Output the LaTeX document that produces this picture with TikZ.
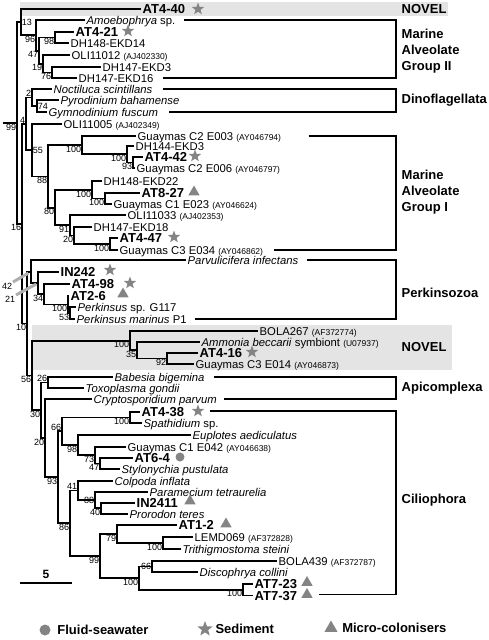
\documentclass[tikz,border=0pt]{standalone}
\usepackage{fontspec}
\setmainfont{Liberation Sans}
\usetikzlibrary{positioning,shapes.geometric}

\definecolor{bandgray}{RGB}{228,228,228}
\definecolor{markgray}{RGB}{132,132,132}
\definecolor{leadgray}{RGB}{175,175,175}

\newcommand{\acc}[1]{{\fontsize{8.5}{9}\selectfont\upshape #1}}

\tikzset{
  leaf/.style={anchor=west, inner xsep=1.5pt, inner ysep=0.2pt, text height=8pt,
    text depth=0pt, font=\fontsize{11.3}{12}\selectfont},
  sp/.style={leaf, font=\fontsize{11.3}{12}\selectfont\itshape},
  clone/.style={anchor=west, inner xsep=1.5pt, inner ysep=0.2pt, text height=9.3pt,
    text depth=0pt, font=\fontsize{13}{14}\selectfont\bfseries},
  bs/.style={anchor=north east, inner sep=0.6pt, font=\fontsize{9}{10}\selectfont},
  bsa/.style={bs, anchor=south east},
  bsr/.style={bs, anchor=west},
  bsl/.style={bs, anchor=east},
  br/.style={draw, line width=1.8pt, to path={|- (\tikztotarget)}},
  stem/.style={draw, line width=1.8pt},
  clb/.style={draw, line width=1.8pt},
  lead/.style={draw=leadgray, line width=3pt},
  clade/.style={anchor=west, align=left, inner sep=1.5pt,
    font=\fontsize{13}{16}\selectfont\bfseries},
  sed/.style={star, star points=5, star point ratio=2.4, fill=markgray,
    inner sep=0pt, minimum size=13pt},
  mic/.style={regular polygon, regular polygon sides=3, fill=markgray,
    inner sep=0pt, minimum size=13pt},
  flu/.style={circle, fill=markgray, inner sep=0pt, minimum size=9pt},
}

\begin{document}
\begin{tikzpicture}[x=1pt, y=-1pt]
\useasboundingbox (0,0) rectangle (488,640);

		\fill[bandgray] (20,2) rectangle (448,16);
		\fill[bandgray] (32,325) rectangle (452,370);

		\coordinate (rt) at (3,123);
		\coordinate (n99) at (17,123);
		\coordinate (n13) at (21,22.2);
		\coordinate (n96) at (36,35.3);
		\coordinate (n47) at (39,50.6);
		\coordinate (n98) at (55,37.5);
		\coordinate (n19) at (43,63.8);
		\coordinate (n76) at (52,72.5);
		\coordinate (n16) at (22,223.7);
		\coordinate (n4) at (26,123.9);
		\coordinate (n2) at (32,97.5);
		\coordinate (n74) at (37,106);
		\coordinate (n55) at (32,150.2);
		\coordinate (n88) at (48,176.4);
		\coordinate (n100a) at (82,145.1);
		\coordinate (n100b) at (127,154.3);
		\coordinate (n93a) at (133,162.5);
		\coordinate (n80) at (55,207.6);
		\coordinate (n100c) at (92,190);
		\coordinate (n100d) at (105,198.5);
		\coordinate (n91) at (70,225.3);
		\coordinate (n20a) at (74,235.5);
		\coordinate (n100e) at (110,244);
		\coordinate (n10) at (27,323.5);
		\coordinate (n42) at (31,271.6);
		\coordinate (n21) at (38,283.1);
		\coordinate (n34) at (44,294.3);
		\coordinate (n100f) at (68,304.5);
		\coordinate (n53) at (70,313);
		\coordinate (n56) at (32,375.5);
		\coordinate (n100g) at (130,340.6);
		\coordinate (n35) at (137,350.3);
		\coordinate (n92) at (167,358.5);
		\coordinate (n30) at (41,410.3);
		\coordinate (n26) at (48,382.5);
		\coordinate (n20b) at (45,438.1);
		\coordinate (n93c) at (58,477.3);
		\coordinate (n66) at (62,431.3);
		\coordinate (n100h) at (130,417.5);
		\coordinate (n98b) at (78,445.1);
		\coordinate (n73) at (95,455.3);
		\coordinate (n47b) at (100,463.5);
		\coordinate (n86) at (70,523.3);
		\coordinate (n41) at (78,490.5);
		\coordinate (n88b) at (95,500);
		\coordinate (n40) at (101,508);
		\coordinate (n99b) at (100,556);
		\coordinate (n79) at (117,534);
		\coordinate (n100i) at (163,543);
		\coordinate (n100j) at (139,578);
		\coordinate (n66b) at (152,566.5);
		\coordinate (n100k) at (243,589.8);

		\node[clone] (lAT440) at (141,9) {AT4-40};
		\node[sp] (lAmoe) at (85,20) {Amoebophrya \textup{sp.}};
		\node[clone] (lAT421) at (74,32) {AT4-21};
		\node[leaf] (lEKD14) at (69,43) {DH148-EKD14};
		\node[leaf] (lOLI12) at (70,55) {OLI11012 \acc{(AJ402330)}};
		\node[leaf] (lEKD3) at (101,67) {DH147-EKD3};
		\node[leaf] (lEKD16) at (77,78) {DH147-EKD16};
		\node[sp] (lNoct) at (52,89) {Noctiluca scintillans};
		\node[sp] (lPyro) at (59,100) {Pyrodinium bahamense};
		\node[sp] (lGymn) at (47,112) {Gymnodinium fuscum};
		\node[leaf] (lOLI05) at (62,124) {OLI11005 \acc{(AJ402349)}};
		\node[leaf] (lE003) at (136,136) {Guaymas C2 E003 \acc{(AY046794)}};
		\node[leaf] (lEKD3b) at (134,146) {DH144-EKD3};
		\node[clone] (lAT442) at (143,157) {AT4-42};
		\node[leaf] (lE006) at (135,168) {Guaymas C2 E006 \acc{(AY046797)}};
		\node[leaf] (lEKD22) at (102,181) {DH148-EKD22};
		\node[clone] (lAT827) at (140,193) {AT8-27};
		\node[leaf] (lE023) at (112,204) {Guaymas C1 E023 \acc{(AY046624)}};
		\node[leaf] (lOLI33) at (126,215) {OLI11033 \acc{(AJ402353)}};
		\node[leaf] (lEKD18) at (92,227) {DH147-EKD18};
		\node[clone] (lAT447) at (118,238) {AT4-47};
		\node[leaf] (lE034) at (118,250) {Guaymas C3 E034 \acc{(AY046862)}};
		\node[sp] (lParv) at (186,260) {Parvulicifera infectans};
		\node[clone] (lIN242) at (59,272) {IN242};
		\node[clone] (lAT498) at (70,284) {AT4-98};
		\node[clone] (lAT26) at (69,296) {AT2-6};
		\node[sp] (lPG117) at (76,307) {Perkinsus \textup{sp. G117}};
		\node[sp] (lPmar) at (75,319) {Perkinsus marinus \textup{P1}};
		\node[leaf] (lBOLA267) at (258,331) {BOLA267 \acc{(AF372774)}};
		\node[sp] (lAmmo) at (200,342) {Ammonia beccarii \textup{symbiont} \acc{(U07937)}};
		\node[clone] (lAT416) at (198,353) {AT4-16};
		\node[leaf] (lE014) at (194,364) {Guaymas C3 E014 \acc{(AY046873)}};
		\node[sp] (lBabe) at (113,377) {Babesia bigemina};
		\node[sp] (lToxo) at (84,388) {Toxoplasma gondii};
		\node[sp] (lCryp) at (92,399) {Cryptosporidium parvum};
		\node[clone] (lAT438) at (140,412) {AT4-38};
		\node[sp] (lSpat) at (142,423) {Spathidium \textup{sp.}};
		\node[sp] (lEupl) at (191,435) {Euplotes aediculatus};
		\node[leaf] (lE042) at (126,447) {Guaymas C1 E042 \acc{(AY046638)}};
		\node[clone] (lAT64) at (133,458) {AT6-4};
		\node[sp] (lStyl) at (120,469) {Stylonychia pustulata};
		\node[sp] (lColp) at (113,481) {Colpoda inflata};
		\node[sp] (lPara) at (148,492) {Paramecium tetraurelia};
		\node[clone] (lIN2411) at (135,503) {IN2411};
		\node[sp] (lPror) at (128,514) {Prorodon teres};
		\node[clone] (lAT12) at (177,525) {AT1-2};
		\node[leaf] (lLEMD) at (193,537) {LEMD069 \acc{(AF372828)}};
		\node[sp] (lTrit) at (181,549) {Trithigmostoma steini};
		\node[leaf] (lBOLA439) at (277,561) {BOLA439 \acc{(AF372787)}};
		\node[sp] (lDisc) at (198,572) {Discophrya collini};
		\node[clone] (lAT723) at (253,584) {AT7-23};
		\node[clone] (lAT737) at (253,595.5) {AT7-37};

		\node[sed] (sAT440) at (198,9) {};
		\node[sed] (sAT421) at (128,31) {};
		\node[sed] (sAT442) at (195,156) {};
		\node[mic] (sAT827) at (194,192) {};
		\node[sed] (sAT447) at (174,237) {};
		\node[sed] (sIN242) at (110,270) {};
		\node[sed] (sAT498) at (130,283) {};
		\node[mic] (sAT26) at (123,294) {};
		\node[sed] (sAT416) at (252,352) {};
		\node[sed] (sAT438) at (198,411) {};
		\node[flu] (sAT64) at (180,457) {};
		\node[mic] (sIN2411) at (190,501) {};
		\node[mic] (sAT12) at (226,524) {};
		\node[mic] (sAT723) at (307,582.5) {};
		\node[mic] (sAT737) at (307,594.5) {};

		\path (rt) edge[stem] (n99);
		\path (n99) edge[br] (n13) edge[br] (n16);
		\path (n13) edge[br] (lAT440) edge[br] (n96);
		\path (n96) edge[br] (lAmoe) edge[br] (n47);
		\path (n47) edge[br] (n98) edge[br] (n19);
		\path (n98) edge[br] (lAT421) edge[br] (lEKD14);
		\path (n19) edge[br] (lOLI12) edge[br] (n76);
		\path (n76) edge[br] (lEKD3) edge[br] (lEKD16);
		\path (n16) edge[br] (n4) edge[br] (n10);
		\path (n4) edge[br] (n2) edge[br] (n55);
		\path (n2) edge[br] (lNoct) edge[br] (n74);
		\path (n74) edge[br] (lPyro) edge[br] (lGymn);
		\path (n55) edge[br] (lOLI05) edge[br] (n88);
		\path (n88) edge[br] (n100a) edge[br] (n80);
		\path (n100a) edge[br] (lE003) edge[br] (n100b);
		\path (n100b) edge[br] (lEKD3b) edge[br] (n93a);
		\path (n93a) edge[br] (lAT442) edge[br] (lE006);
		\path (n80) edge[br] (n100c) edge[br] (n91);
		\path (n100c) edge[br] (lEKD22) edge[br] (n100d);
		\path (n100d) edge[br] (lAT827) edge[br] (lE023);
		\path (n91) edge[br] (lOLI33) edge[br] (n20a);
		\path (n20a) edge[br] (lEKD18) edge[br] (n100e);
		\path (n100e) edge[br] (lAT447) edge[br] (lE034);
		\path (n10) edge[br] (n42) edge[br] (n56);
		\path (n42) edge[br] (lParv) edge[br] (n21);
		\path (n21) edge[br] (lIN242) edge[br] (n34);
		\path (n34) edge[br] (lAT498) edge[br] (n100f);
		\path (n100f) edge[br] (lAT26) edge[br] (n53);
		\path (n53) edge[br] (lPG117) edge[br] (lPmar);
		\path (n56) edge[br] (n100g) edge[br] (n30);
		\path (n100g) edge[br] (lBOLA267) edge[br] (n35);
		\path (n35) edge[br] (lAmmo) edge[br] (n92);
		\path (n92) edge[br] (lAT416) edge[br] (lE014);
		\path (n30) edge[br] (n26) edge[br] (n20b);
		\path (n26) edge[br] (lBabe) edge[br] (lToxo);
		\path (n20b) edge[br] (lCryp) edge[br] (n93c);
		\path (n93c) edge[br] (n66) edge[br] (n86);
		\path (n66) edge[br] (n100h) edge[br] (n98b);
		\path (n100h) edge[br] (lAT438) edge[br] (lSpat);
		\path (n98b) edge[br] (lEupl) edge[br] (n73);
		\path (n73) edge[br] (lE042) edge[br] (n47b);
		\path (n47b) edge[br] (lAT64) edge[br] (lStyl);
		\path (n86) edge[br] (n41) edge[br] (n99b);
		\path (n41) edge[br] (lColp) edge[br] (n88b);
		\path (n88b) edge[br] (lPara) edge[br] (n40);
		\path (n40) edge[br] (lIN2411) edge[br] (lPror);
		\path (n99b) edge[br] (n79) edge[br] (n100j);
		\path (n79) edge[br] (lAT12) edge[br] (n100i);
		\path (n100i) edge[br] (lLEMD) edge[br] (lTrit);
		\path (n100j) edge[br] (n66b) edge[br] (n100k);
		\path (n66b) edge[br] (lBOLA439) edge[br] (lDisc);
		\path (n100k) edge[br] (lAT723) edge[br] (lAT737);

		\node[bs] (b99) at (n99) {99};
		\node[bsr] (b13) at (n13) {13};
		\node[bs] (b96) at (n96) {96};
		\node[bs] (b47) at (n47) {47};
		\node[bs] (b98) at (n98) {98};
		\node[bs] (b19) at (n19) {19};
		\node[bs] (b76) at (n76) {76};
		\node[bs] (b16) at (n16) {16};
		\node[bsa] (b4) at (n4) {4};
		\node[bsa] (b2) at (n2) {2};
		\node[bsr] (b74) at (n74) {74};
		\node[bsr] (b55) at (n55) {55};
		\node[bs] (b88) at (n88) {88};
		\node[bs] (b100a) at (n100a) {100};
		\node[bs] (b100b) at (n100b) {100};
		\node[bs] (b93a) at (n93a) {93};
		\node[bs] (b80) at (n80) {80};
		\node[bs] (b100c) at (n100c) {100};
		\node[bs] (b100d) at (n100d) {100};
		\node[bs] (b91) at (n91) {91};
		\node[bs] (b20a) at (n20a) {20};
		\node[bs] (b100e) at (n100e) {100};
		\node[bs] (b10) at (n10) {10};
		\node[bs] (b42) at (13,282) {42};
		\node[bs] (b21) at (16,295) {21};
		\node[bs] (b34) at (n34) {34};
		\node[bs] (b100f) at (n100f) {100};
		\node[bs] (b53) at (n53) {53};
		\node[bs] (b56) at (n56) {56};
		\node[bs] (b100g) at (n100g) {100};
		\node[bs] (b35) at (n35) {35};
		\node[bs] (b92) at (n92) {92};
		\node[bs] (b30) at (n30) {30};
		\node[bsa] (b26) at (n26) {26};
		\node[bs] (b20b) at (n20b) {20};
		\node[bs] (b93c) at (n93c) {93};
		\node[bsa] (b66) at (n66) {66};
		\node[bs] (b100h) at (n100h) {100};
		\node[bs] (b98b) at (n98b) {98};
		\node[bs] (b73) at (n73) {73};
		\node[bs] (b47b) at (n47b) {47};
		\node[bs] (b86) at (n86) {86};
		\node[bsa] (b41) at (n41) {41};
		\node[bsl] (b88b) at (n88b) {88};
		\node[bs] (b40) at (n40) {40};
		\node[bs] (b99b) at (n99b) {99};
		\node[bs] (b79) at (n79) {79};
		\node[bs] (b100i) at (n100i) {100};
		\node[bs] (b100j) at (n100j) {100};
		\node[bsl] (b66b) at (n66b) {66};
		\node[bs] (b100k) at (n100k) {100};

		\path[lead, shorten >=3pt] (b42.north east) -- (n42);
		\path[lead, shorten >=2pt] (b21.north east) -- (n21);

		\coordinate (cMAG2) at (396,50);
		\coordinate (cDino) at (396,100);
		\coordinate (cMAG1) at (396,192);
		\coordinate (cPerk) at (396,290);
		\coordinate (cApi) at (396,388);
		\coordinate (cCil) at (396,500);
		\path[clb] ([xshift=7pt]lAmoe.east) -| (cMAG2) |- ([xshift=8pt]lEKD16.east);
		\path[clb] ([xshift=9pt]lNoct.east) -| (cDino) |- ([xshift=9pt]lGymn.east);
		\path[clb] ([xshift=26pt]lE003.east) -| (cMAG1) |- ([xshift=9pt]lE034.east);
		\path[clb] ([xshift=7pt]lParv.east) -| (cPerk) |- ([xshift=7pt]lPmar.east);
		\path[clb] ([xshift=8pt]lBabe.east) -| (cApi) |- ([xshift=6pt]lCryp.east);
		\path[clb] ([xshift=8pt]sAT438.east) -| (cCil) |- ([xshift=8pt]sAT737.east);

		\node[clade] (kNov1) at (400,9) {NOVEL};
		\node[clade] (kMAG2) at (400,51) {Marine\\Alveolate\\Group II};
		\node[clade] (kDino) at (400,100) {Dinoflagellata};
		\node[clade] (kMAG1) at (400,192) {Marine\\Alveolate\\Group I};
		\node[clade] (kPerk) at (400,293) {Perkinsozoa};
		\node[clade] (kNov2) at (400,347) {NOVEL};
		\node[clade] (kApi) at (400,388) {Apicomplexa};
		\node[clade] (kCil) at (400,500) {Ciliophora};

		\coordinate (sb1) at (20,583);
		\coordinate (sb2) at (72,583);
		\path[stem] (sb1) -- (sb2);
		\node[font=\fontsize{12}{13}\selectfont\bfseries, inner sep=1pt] (sbl) at (46,574) {5};

		\node[flu, minimum size=11pt] (kFlu) at (45,630) {};
		\node[clade, right=5pt of kFlu] (tFlu) {Fluid-seawater};
		\node[sed, minimum size=16pt] (kSed) at (205,629) {};
		\node[clade, right=4pt of kSed] (tSed) {Sediment};
		\node[mic, minimum size=15pt] (kMic) at (331,628) {};
		\node[clade, right=5pt of kMic] (tMic) {Micro-colonisers};
\end{tikzpicture}
\end{document}
